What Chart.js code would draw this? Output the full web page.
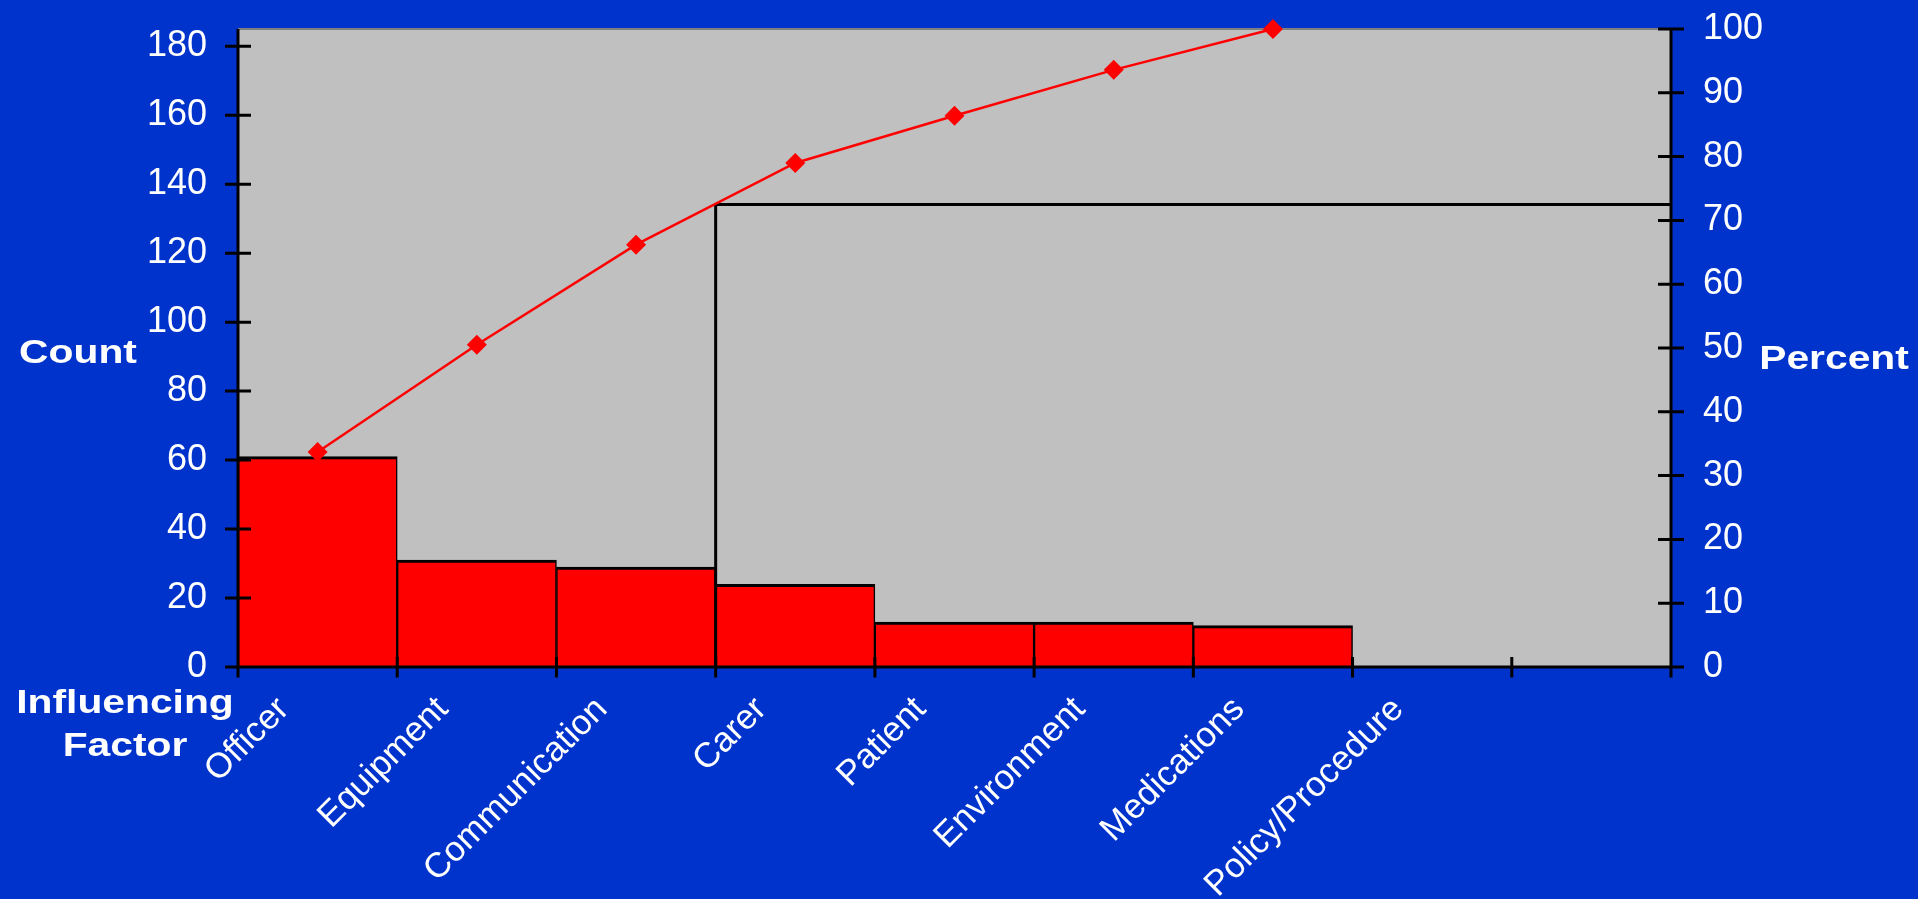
<!DOCTYPE html>
<html><head><meta charset="utf-8">
<script src="https://cdn.jsdelivr.net/npm/chart.js@4.4.1/dist/chart.umd.min.js"></script>
<style>html,body{margin:0;padding:0;background:#0033CC;overflow:hidden}canvas{display:block}</style>
</head><body>
<canvas id="c" width="1918" height="899"></canvas>
<script>
// ---- data ----
const categories = ['Officer','Equipment','Communication','Carer','Patient','Environment','Medications','Policy/Procedure',''];
const counts = [61, 31, 29, 24, 13, 13, 12, null, null];
const cumulativePercent = [33.7, 50.5, 66.2, 79.0, 86.4, 93.6, 100, null, null];
const cutoffLine = [{x:2.5, y:0}, {x:2.5, y:72.5}, {x:8.5, y:72.5}];
const countAxis = {min:0, max:185, step:20};
const percentAxis = {min:0, max:100, step:10};
const titles = {left:'Count', right:'Percent', bottom:['Influencing','Factor']};

const BLUE = '#0033CC', GRAY = '#C0C0C0', FONT = '"Liberation Sans", Arial, sans-serif';

const decor = {
  id:'decor',
  beforeDraw(chart){
    const {ctx, chartArea:a} = chart;
    ctx.save();
    ctx.fillStyle = BLUE; ctx.fillRect(0,0,chart.width,chart.height);
    ctx.fillStyle = GRAY; ctx.fillRect(a.left,a.top,a.right-a.left,a.bottom-a.top);
    ctx.restore();
  },
  beforeDatasetsDraw(chart){
    const {ctx, chartArea:a} = chart;
    ctx.save();
    ctx.strokeStyle = '#808080'; ctx.lineWidth = 2;
    ctx.beginPath(); ctx.moveTo(a.left, a.top); ctx.lineTo(a.right, a.top); ctx.stroke();
    ctx.restore();
  },
  afterDatasetsDraw(chart){
    const {ctx, chartArea:a, scales} = chart;
    ctx.save();
    ctx.strokeStyle = '#000'; ctx.lineWidth = 3; ctx.lineCap = 'butt';
    ctx.beginPath();
    ctx.moveTo(a.left, a.top); ctx.lineTo(a.left, a.bottom);
    ctx.moveTo(a.right, a.top); ctx.lineTo(a.right, a.bottom);
    ctx.moveTo(a.left-1.5, a.bottom); ctx.lineTo(a.right+1.5, a.bottom);
    scales.y.ticks.forEach(t => { const p = scales.y.getPixelForValue(t.value); ctx.moveTo(a.left-13, p); ctx.lineTo(a.left+13, p); });
    scales.y1.ticks.forEach(t => { const p = scales.y1.getPixelForValue(t.value); ctx.moveTo(a.right-13, p); ctx.lineTo(a.right+13, p); });
    for (let i = 0; i <= categories.length; i++) {
      const p = scales.x2.getPixelForValue(i - 0.5);
      ctx.moveTo(p, a.bottom-10); ctx.lineTo(p, a.bottom+10.5);
    }
    ctx.stroke();
    ctx.restore();
  },
  afterDraw(chart){
    const {ctx, chartArea:a} = chart;
    const mid = (a.top + a.bottom) / 2;
    const txt = (t, x, y) => { ctx.save(); ctx.translate(x, y); ctx.scale(1.2, 1); ctx.fillText(t, 0, 0); ctx.restore(); };
    ctx.save();
    ctx.fillStyle = '#fff'; ctx.font = 'bold 34px ' + FONT; ctx.textAlign = 'center'; ctx.textBaseline = 'alphabetic';
    txt(titles.left, a.left - 160, mid + 15);
    txt(titles.right, a.right + 163, mid + 21);
    txt(titles.bottom[0], a.left - 113, a.bottom + 46);
    txt(titles.bottom[1], a.left - 113, a.bottom + 89);
    ctx.restore();
  }
};

const noPad = s => { s.paddingTop = 0; s.paddingBottom = 0; };

new Chart(document.getElementById('c'), {
  data: {
    labels: categories,
    datasets: [
      { type:'line', data: cumulativePercent, yAxisID:'y1', xAxisID:'x', borderColor:'#FF0000', backgroundColor:'#FF0000',
        borderWidth:2.5, pointStyle:'rectRot', pointRadius:10, pointBorderWidth:0, tension:0, clip:false, order:1, spanGaps:false },
      { type:'line', data: cutoffLine, yAxisID:'y1', xAxisID:'x2', borderColor:'#000', borderWidth:3, pointRadius:0,
        fill:false, tension:0, clip:false, order:2, borderJoinStyle:'miter' },
      { type:'bar', data: counts, yAxisID:'y', xAxisID:'x', backgroundColor:'#FF0000', borderColor:'#000',
        borderWidth:{top:3, left:1.5, right:1.5, bottom:0}, borderSkipped:false, grouped:false,
        barPercentage:1, categoryPercentage:1, order:3 }
    ]
  },
  options: {
    responsive:false, animation:false, devicePixelRatio:1,
    layout:{ padding:{ top:29, left:0, right:0, bottom:0 } },
    plugins:{ legend:{display:false}, tooltip:{enabled:false} },
    scales:{
      x:{ type:'category', position:'bottom', offset:true,
          grid:{display:false, drawTicks:false, tickLength:0}, border:{display:false},
          ticks:{ color:'#fff', font:{family:FONT, size:35}, minRotation:45, maxRotation:45, autoSkip:false, padding:22, labelOffset:-34 },
          afterFit(s){ s.height = 232; s.paddingLeft = 0; s.paddingRight = 0; } },
      x2:{ type:'linear', display:false, min:-0.5, max:categories.length - 0.5, offset:false },
      y:{ type:'linear', position:'left', min:countAxis.min, max:countAxis.max,
          grid:{display:false, drawTicks:false, tickLength:0}, border:{display:false},
          ticks:{ stepSize:countAxis.step, includeBounds:false, color:'#fff', font:{family:FONT, size:36}, padding:31 },
          afterFit(s){ s.width = 238; noPad(s); } },
      y1:{ type:'linear', position:'right', min:percentAxis.min, max:percentAxis.max,
          grid:{display:false, drawTicks:false, tickLength:0}, border:{display:false},
          ticks:{ stepSize:percentAxis.step, color:'#fff', font:{family:FONT, size:36}, padding:32 },
          afterFit(s){ s.width = 247; noPad(s); } }
    }
  },
  plugins:[decor]
});
</script>
</body></html>
